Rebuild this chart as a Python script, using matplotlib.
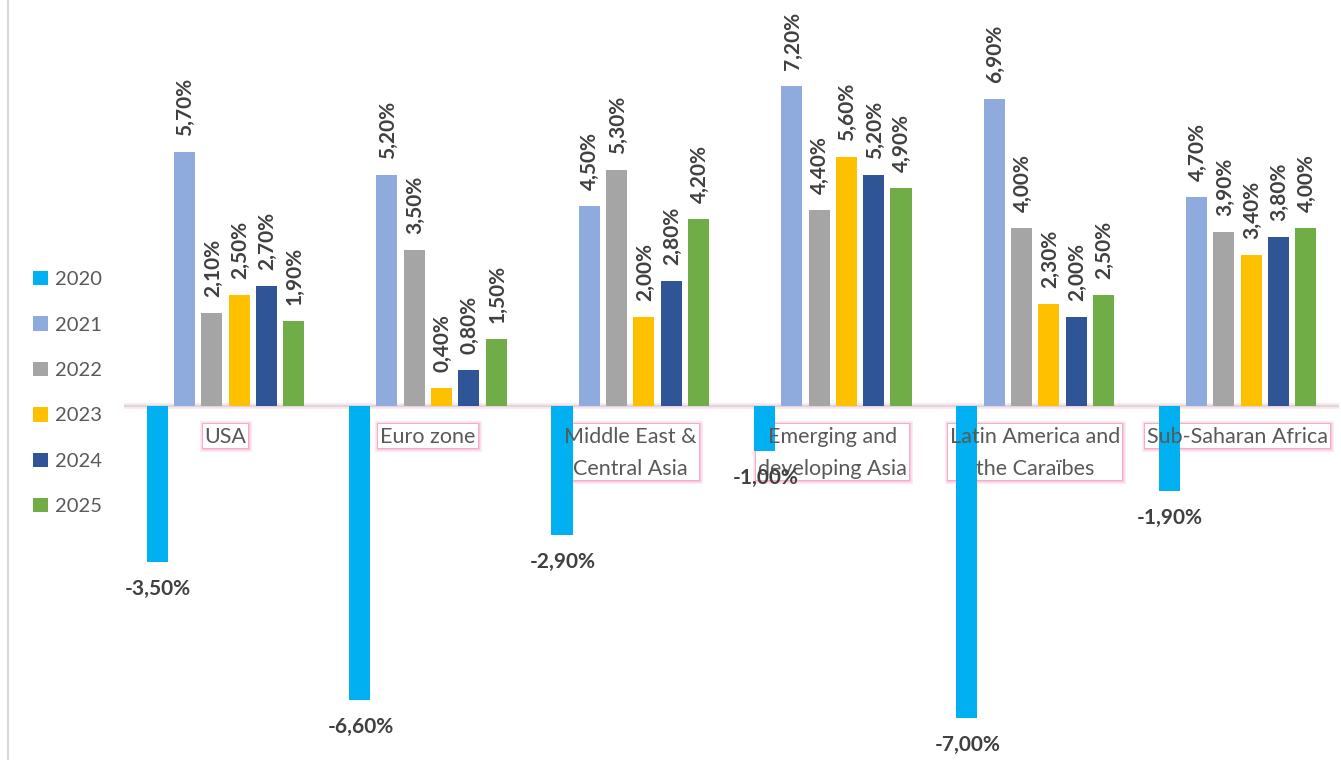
import matplotlib
matplotlib.use("Agg")
import matplotlib.pyplot as plt
from matplotlib.patches import Patch, Rectangle
from matplotlib.lines import Line2D
import numpy as np

categories = ["USA", "Euro zone", "Middle East &\nCentral Asia", "Emerging and\ndeveloping Asia",
              "Latin America and\nthe Caraïbes", "Sub-Saharan Africa"]
years = ["2020", "2021", "2022", "2023", "2024", "2025"]
v2020 = [-3.5, -6.6, -2.9, -1.0, -7.0, -1.9]
v2021 = [5.7, 5.2, 4.5, 7.2, 6.9, 4.7]
v2022 = [2.1, 3.5, 5.3, 4.4, 4.0, 3.9]
v2023 = [2.5, 0.4, 2.0, 5.6, 2.3, 3.4]
v2024 = [2.7, 0.8, 2.8, 5.2, 2.0, 3.8]
v2025 = [1.9, 1.5, 4.2, 4.9, 2.5, 4.0]
series = [v2020, v2021, v2022, v2023, v2024, v2025]
colors = ["#00B0F0", "#8FAADC", "#A5A5A5", "#FFC000", "#2F5597", "#70AD47"]

plt.rcParams['font.family'] = ['Lato', 'DejaVu Sans']

W, H = 1341, 760
fig = plt.figure(figsize=(W / 100, H / 100), dpi=100)
ax = fig.add_axes([124.3 / W, 0, 1214.4 / W, 1])
ax.set_xlim(-0.5, 5.5)
ax.set_ylim(-354 / 44.5, 406 / 44.5)
ax.axis('off')

x = np.arange(len(categories))
step = 0.135
width = 0.104
label_color = "#404040"

for j, (vals, col) in enumerate(zip(series, colors)):
    xs = x + (j - 2.5) * step
    ax.bar(xs, vals, width=width, color=col, zorder=3)
    for i, (xx, v) in enumerate(zip(xs, vals)):
        txt = f"{v:.2f}%".replace('.', ',')
        if v >= 0:
            ax.annotate(txt, (xx, v), xytext=(1, 16), textcoords='offset pixels',
                        rotation=90, ha='center', va='bottom', fontsize=15,
                        fontweight='bold', color=label_color, zorder=7)
        else:
            ax.annotate(txt, (xx, v), xytext=(1, -27), textcoords='offset pixels',
                        ha='center', va='center', fontsize=15,
                        fontweight='bold', color=label_color, zorder=7)

# zero line with faint pink glow
ax.axhline(0, color="#fbd3e6", lw=4, alpha=0.6, zorder=1)
ax.axhline(0, color="#d9d9d9", lw=1.5, zorder=2)

# category labels
cat_texts = []
for i, c in enumerate(categories):
    t = ax.annotate(c, (x[i], 0), xytext=(0, -21), textcoords='offset pixels',
                    ha='center', va='top', fontsize=15.5, color="#595959", linespacing=1.75,
                    zorder=6)
    cat_texts.append(t)

fig.canvas.draw()
r = fig.canvas.get_renderer()
for t in cat_texts:
    bb = t.get_window_extent(r)
    x0, y0 = bb.x0 - 2, bb.y0 - 1
    w, h = bb.width + 4, bb.height + 4
    for lw, a in [(5, 0.25), (2.5, 0.5), (1.2, 0.9)]:
        ax.add_artist(Rectangle((x0 / W, y0 / H), w / W, h / H, transform=fig.transFigure,
                                fc='none', ec='#f4a6cb', lw=lw, alpha=a, zorder=1.1))
    ax.add_artist(Rectangle((x0 / W, y0 / H), w / W, h / H, transform=fig.transFigure,
                            fc='white', ec='none', zorder=1.2))

# left border line
fig.add_artist(Line2D([7.5 / W, 7.5 / W], [0, 1], transform=fig.transFigure,
                      color="#d9d9d9", lw=1.5))

handles = [Patch(facecolor=c, edgecolor='none') for c in colors]
fig.legend(handles, years, loc='upper left', bbox_to_anchor=(33 / W, 1 - 271 / H),
           frameon=False, fontsize=14.5, labelcolor="#595959", handlelength=0.72,
           handleheight=0.72, handletextpad=0.35, labelspacing=1.4,
           borderpad=0, borderaxespad=0)

fig.savefig("out.png", dpi=100)
